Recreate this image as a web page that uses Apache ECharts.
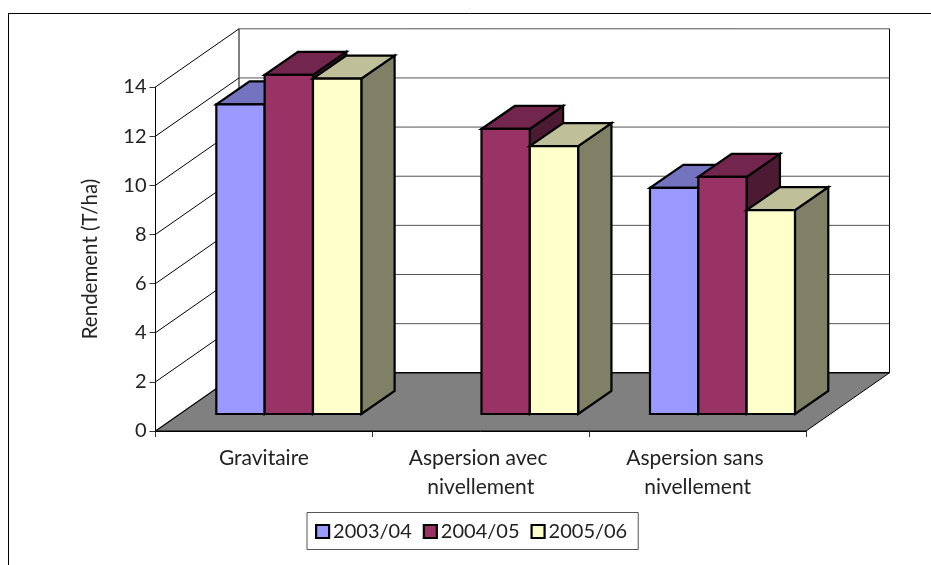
<!DOCTYPE html>
<html>
<head>
<meta charset="utf-8">
<style>html,body{margin:0;padding:0;background:#fff}#c{width:931px;height:565px}</style>
<script src="https://cdn.jsdelivr.net/npm/echarts@6/dist/echarts.min.js"></script>
</head>
<body>
<div id="c"></div>
<script>
const categories = ['Gravitaire', 'Aspersion avec nivellement', 'Aspersion sans nivellement'];
const years = ['2003/04', '2004/05', '2005/06'];
const values2003 = [12.6, null, 9.2];
const values2004 = [13.8, 11.6, 9.65];
const values2005 = [13.65, 10.9, 8.3];
const yTicks = [0, 2, 4, 6, 8, 10, 12, 14];

const seriesValues = [values2003, values2004, values2005];
const faces = [
  { front: '#9999FF', top: '#7373BF', side: '#4D4D80' },
  { front: '#993366', top: '#73264D', side: '#4D1A33' },
  { front: '#FFFFCC', top: '#BFBF99', side: '#808066' }
];
const FONT = 'Lato';
const TXT = '#222';
const WALL_DX = 83.5, WALL_DY = 58.2;   // depth of the 3D box
const PLANE_DX = 24.9, PLANE_DY = 17;   // where the bars stand inside the box
const BAR_DX = 33.3, BAR_DY = 23;       // depth of a bar
const BAR_RATIO = 0.2229;               // bar width / category width

function poly(points, fill, stroke, lw) {
  return { type: 'polygon', shape: { points }, style: { fill, stroke, lineWidth: lw, lineJoin: 'miter' } };
}
function line(x1, y1, x2, y2, stroke, lw) {
  return { type: 'line', shape: { x1, y1, x2, y2 }, style: { stroke, lineWidth: lw } };
}

function renderFloor(params) {
  const c = params.coordSys;
  const l = c.x, r = c.x + c.width, b = c.y + c.height, t = c.y;
  return { type: 'group', children: [
    poly([[l, b], [r, b], [r + WALL_DX, b - WALL_DY], [l + WALL_DX, b - WALL_DY]], '#808080', null, 0),
    line(l + WALL_DX, t - WALL_DY, l + WALL_DX, b - WALL_DY, '#000', 1),
    line(r + WALL_DX, t - WALL_DY, r + WALL_DX, b - WALL_DY, '#000', 1),
    line(l, b, l + WALL_DX, b - WALL_DY, '#000', 1.2),
    line(l + WALL_DX, b - WALL_DY, r + WALL_DX, b - WALL_DY, '#000', 1.5),
    line(r, b, r + WALL_DX, b - WALL_DY, '#000', 1),
    line(l, b, r, b, '#000', 1)
  ] };
}
function renderGrid(params, api) {
  const c = params.coordSys;
  const v = api.value(0);
  if (v === 0) return null;
  const y = api.coord([0, v])[1];
  const l = c.x, r = c.x + c.width;
  return { type: 'group', children: [
    line(l, y, l + WALL_DX, y - WALL_DY, '#000', 1),
    line(l + WALL_DX, y - WALL_DY, r + WALL_DX, y - WALL_DY, '#555', 1)
  ] };
}
function makeBarRenderer(idx) {
  return function (params, api) {
    const cat = api.value(0), val = api.value(1);
    if (isNaN(val)) return null;
    const band = api.size([1, 0])[0];
    const w = band * BAR_RATIO;
    const base = api.coord([cat, 0]);
    const top = api.coord([cat, val]);
    const x0 = base[0] + (idx - 1.5) * w + PLANE_DX, x1 = x0 + w;
    const yb = base[1] - PLANE_DY, yt = top[1] - PLANE_DY;
    const f = faces[idx], lw = 2.2;
    return { type: 'group', children: [
      poly([[x1, yb], [x1 + BAR_DX, yb - BAR_DY], [x1 + BAR_DX, yt - BAR_DY], [x1, yt]], f.side, '#000', lw),
      poly([[x0, yt], [x1, yt], [x1 + BAR_DX, yt - BAR_DY], [x0 + BAR_DX, yt - BAR_DY]], f.top, '#000', lw),
      poly([[x0, yb], [x1, yb], [x1, yt], [x0, yt]], f.front, '#000', lw)
    ] };
  };
}

const chart = echarts.init(document.getElementById('c'), null, { renderer: 'canvas' });
chart.setOption({
  animation: false,
  backgroundColor: '#fff',
  textStyle: { fontFamily: FONT },
  grid: { left: 155.5, right: 125, top: 87, bottom: 134, containLabel: false },
  graphic: [
    { type: 'line', shape: { x1: 8, y1: 13.5, x2: 931, y2: 13.5 }, style: { stroke: '#000', lineWidth: 1 } },
    { type: 'line', shape: { x1: 8.5, y1: 13, x2: 8.5, y2: 565 }, style: { stroke: '#000', lineWidth: 1 } }
  ],
  legend: {
    left: 307, top: 512.5,
    orient: 'horizontal',
    data: years.map((y, i) => ({ name: y, icon: 'rect',
      itemStyle: { color: faces[i].front, borderColor: '#000', borderWidth: 2.2 } })),
    itemWidth: 13, itemHeight: 13, itemGap: 11,
    padding: [9, 11, 8, 8],
    borderColor: '#555', borderWidth: 1,
    textStyle: { fontFamily: FONT, fontSize: 20, color: TXT, padding: [2, 0, 0, -1] },
    selectedMode: false
  },
  xAxis: {
    type: 'category',
    data: categories,
    boundaryGap: true,
    axisLine: { lineStyle: { color: '#000', width: 1 } },
    axisTick: { show: true, length: 6, alignWithLabel: false, lineStyle: { color: '#333' } },
    splitLine: { show: false },
    axisLabel: { interval: 0, fontFamily: FONT, fontSize: 21, color: TXT, margin: 13, lineHeight: 29,
      width: 195, overflow: 'break', hideOverlap: false }
  },
  yAxis: {
    type: 'value', min: 0, max: 14, interval: 2,
    name: 'Rendement (T/ha)', nameLocation: 'middle', nameRotate: 90, nameGap: 55,
    nameTextStyle: { fontFamily: FONT, fontSize: 20.5, color: TXT },
    axisLine: { show: true, onZero: false, lineStyle: { color: '#000', width: 1 } },
    axisTick: { show: true, length: 6, lineStyle: { color: '#333' } },
    splitLine: { show: false },
    axisLabel: { fontFamily: FONT, fontSize: 20, color: TXT, margin: 9 }
  },
  series: [
    { type: 'custom', name: 'floor', silent: true, z: 1, renderItem: renderFloor, data: [[0]], encode: { x: -1, y: -1 } },
    { type: 'custom', name: 'grid', silent: true, z: 2, renderItem: renderGrid, data: yTicks.map(t => [t]), encode: { x: -1, y: 0 } }
  ].concat(years.map((y, i) => ({
    type: 'custom', name: y, z: 3 + i,
    itemStyle: { color: faces[i].front },
    renderItem: makeBarRenderer(i),
    encode: { x: 0, y: 1 },
    data: seriesValues[i].map((v, k) => [k, v === null ? '-' : v])
  })))
});
</script>
</body>
</html>
